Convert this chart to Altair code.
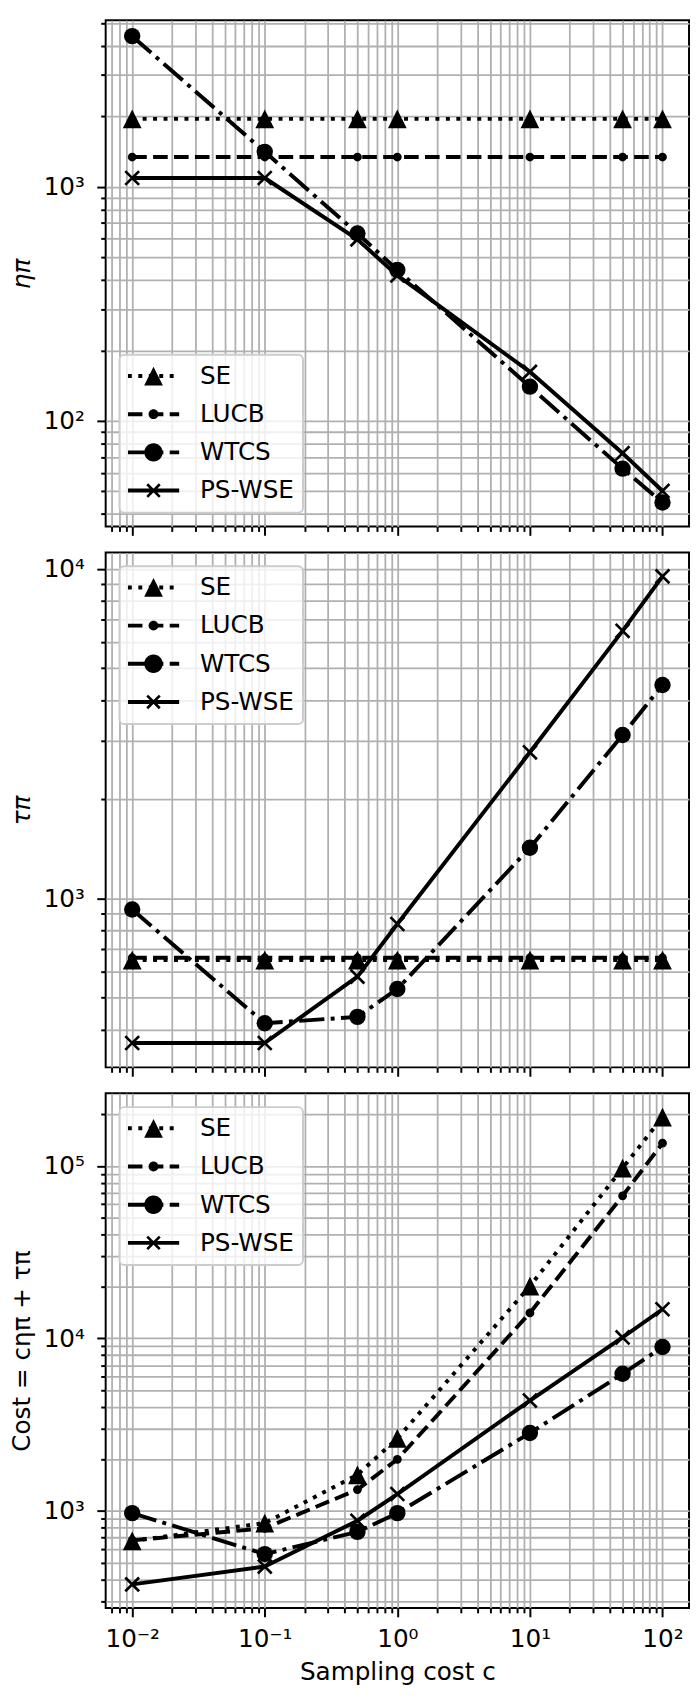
import math
import altair as alt
import pandas as pd

# ---------------- data ----------------
c_values = [0.01, 0.1, 0.5, 1, 10, 50, 100]
series_names = ["SE", "LUCB", "WTCS", "PS-WSE"]

eta_se = [1950, 1950, 1950, 1950, 1950, 1950, 1950]
eta_lucb = [1340, 1340, 1340, 1340, 1340, 1340, 1340]
eta_wtcs = [4400, 1410, 632, 441, 140, 62.5, 44.8]
eta_pswse = [1090, 1090, 596, 418, 162, 72.8, 50.2]

tau_se = [650, 650, 650, 650, 650, 650, 650]
tau_lucb = [660, 660, 660, 660, 660, 660, 660]
tau_wtcs = [925, 418, 437, 531, 1424, 3133, 4442]
tau_pswse = [364, 364, 579, 836, 2775, 6486, 9490]

cost_se = [670, 850, 1620, 2630, 20100, 97000, 192000]
cost_lucb = [675, 793, 1330, 1990, 14060, 67100, 135500]
cost_wtcs = [971, 562, 756, 971, 2829, 6237, 8913]
cost_pswse = [375, 476, 877, 1253, 4365, 10130, 14760]

x_major_exps = [-2, -1, 0, 1, 2]
sup = {-2: "10⁻²", -1: "10⁻¹", 0: "10⁰", 1: "10¹", 2: "10²", 3: "10³", 4: "10⁴", 5: "10⁵"}

# ---------------- styles ----------------
FONT = "DejaVu Sans"
FS = 25
GRID = "#b0b0b0"
LW = 4
dashes = {"SE": [4, 6.6], "LUCB": [14.8, 6.4], "WTCS": [25.6, 6.4, 4, 6.4], "PS-WSE": None}
marker_shape = {
    "SE": "M0,-1L1,1L-1,1Z",
    "LUCB": "circle",
    "WTCS": "circle",
    "PS-WSE": "M-1,-1L1,1M-1,1L1,-1",
}
marker_size = {"SE": 361, "LUCB": 79, "WTCS": 275, "PS-WSE": 196}

# ---------- legend glyphs: filled-only paths (line sample + marker) ----------
U = 26.0          # px per path unit (symbolSize 2704 -> sqrt/2 = 26)
HALF = 26.0       # half length of the legend line sample, px


def _fmt(v):
    return f"{v / U:.4f}"


def _poly(pts):
    area = sum(pts[i][0] * pts[(i + 1) % len(pts)][1] - pts[(i + 1) % len(pts)][0] * pts[i][1]
               for i in range(len(pts)))
    if area < 0:
        pts = pts[::-1]
    return "M" + "L".join(f"{_fmt(x)},{_fmt(y)}" for x, y in pts) + "Z"


def _line_sample(pattern):
    hw = LW / 2
    if pattern is None:
        return _poly([(-HALF, -hw), (HALF, -hw), (HALF, hw), (-HALF, hw)])
    out, x, i = [], -HALF, 0
    while x < HALF:
        seg = pattern[i % len(pattern)]
        if i % 2 == 0:
            x1 = min(x + seg, HALF)
            out.append(_poly([(x, -hw), (x1, -hw), (x1, hw), (x, hw)]))
        x += seg
        i += 1
    return "".join(out)


def _circle(r):
    a = _fmt(r)
    return f"M-{a},0A{a},{a},0,1,1,{a},0A{a},{a},0,1,1,-{a},0Z"


def _bar(angle, half_len, half_w):
    t = math.radians(angle)
    dx, dy = math.cos(t), math.sin(t)
    nx, ny = -dy, dx
    return _poly([(-half_len * dx - half_w * nx, -half_len * dy - half_w * ny),
                  (half_len * dx - half_w * nx, half_len * dy - half_w * ny),
                  (half_len * dx + half_w * nx, half_len * dy + half_w * ny),
                  (-half_len * dx + half_w * nx, -half_len * dy + half_w * ny)])


legend_markers = {
    "SE": _poly([(0, -9.5), (9.5, 9.5), (-9.5, 9.5)]),
    "LUCB": _circle(5.0),
    "WTCS": _circle(9.35),
    "PS-WSE": _bar(45, 9.0, 1.35) + _bar(-45, 9.0, 1.35),
}
legend_paths = [_line_sample(dashes[n]) + legend_markers[n] for n in series_names]

XMIN, XMAX = 10 ** -2.2, 10 ** 2.2
W = 591.3


def ticks_in(lo, hi):
    vals = []
    for k in range(-4, 7):
        for m in range(1, 10):
            v = m * 10.0 ** k
            if lo <= v <= hi:
                vals.append(v)
    return vals


def label_expr(exps):
    lg = "(log(datum.value)/LN10)"
    expr = "''"
    for e in reversed(exps):
        expr = f"abs({lg} - ({e})) < 1e-6 ? '{sup[e]}' : " + expr
    return expr


MAJOR_TEST = "abs(log(datum.value)/LN10 - round(log(datum.value)/LN10)) < 1e-6"
tick_size = {"condition": {"test": MAJOR_TEST, "value": 9}, "value": 5}
label_size = {"condition": {"test": MAJOR_TEST, "value": FS}, "value": 0}

common_axis = dict(
    grid=True, gridColor=GRID, gridWidth=1.8, gridOpacity=1,
    domain=False, tickColor="black", tickWidth=2, tickSize=tick_size,
    labelFont=FONT, labelFontSize=label_size, labelColor="black",
    labelOverlap=False, labelFlush=False,
    titleFont=FONT, titleFontSize=FS, titleFontWeight="normal", titleColor="black",
)


def panel(vals, ydomain, ytitle, height, legend_orient, bottom, italic):
    rows = []
    for name, ys in zip(series_names, vals):
        for c, v in zip(c_values, ys):
            rows.append({"c": c, "value": v, "series": name})
    df = pd.DataFrame(rows)

    xvals = ticks_in(XMIN, XMAX)
    if bottom:
        xaxis = alt.Axis(values=xvals, labelExpr=label_expr(x_major_exps), labelPadding=10.5,
                         title="Sampling cost c", titleY=53, titleBaseline="top",
                         **common_axis)
    else:
        xaxis = alt.Axis(values=xvals, labels=False, title=None, **common_axis)

    yvals = ticks_in(ydomain[0], ydomain[1])
    yexps = [e for e in range(-3, 7) if ydomain[0] <= 10 ** e <= ydomain[1]]
    yaxis = alt.Axis(values=yvals, labelExpr=label_expr(yexps), labelPadding=12.5,
                     title=ytitle, titleX=-85.5, titleY=height / 2, titleAngle=270,
                     titleAlign="center", titleBaseline="middle",
                     titleFontStyle="italic" if italic else "normal",
                     **common_axis)

    base = alt.Chart(df).encode(
        x=alt.X("c:Q", scale=alt.Scale(type="log", domain=[XMIN, XMAX], nice=False), axis=xaxis),
        y=alt.Y("value:Q", scale=alt.Scale(type="log", domain=ydomain, nice=False), axis=yaxis),
    )

    layers = []
    for name in series_names:
        sub = base.transform_filter(alt.datum.series == name)
        line_kw = dict(color="black", strokeWidth=LW, strokeJoin="round")
        if dashes[name] is not None:
            line_kw["strokeDash"] = dashes[name]
        layers.append(sub.mark_line(**line_kw))
        if name == "PS-WSE":
            pts = sub.mark_point(filled=False, color="black", strokeWidth=2.7, opacity=1)
        else:
            pts = sub.mark_point(filled=True, color="black", opacity=1, strokeWidth=0)
        layers.append(pts.encode(shape=alt.value(marker_shape[name]), size=alt.value(marker_size[name])))

    leg = alt.Legend(
        title=None, orient=legend_orient, offset=14, padding=8.5,
        fillColor="rgba(255,255,255,0.8)", strokeColor="#cccccc", cornerRadius=5,
        symbolSize=2704, symbolStrokeWidth=0, symbolFillColor="black", symbolOpacity=1,
        labelFont=FONT, labelFontSize=FS, labelColor="black", labelOffset=21,
        clipHeight=26, rowPadding=12.7, labelLimit=300,
    )
    legend_layer = base.transform_filter("false").mark_point(
        filled=True, color="black", opacity=1
    ).encode(
        shape=alt.Shape("series:N", scale=alt.Scale(domain=series_names, range=legend_paths), legend=leg),
    )
    layers.append(legend_layer)
    return alt.layer(*layers).properties(width=W, height=height)


p1 = panel([eta_se, eta_lucb, eta_wtcs, eta_pswse], [35.41, 5139], "ηπ", 513, "bottom-left", False, True)
p2 = panel([tau_se, tau_lucb, tau_wtcs, tau_pswse], [307.0, 11220], "τπ", 522, "top-left", False, True)
p3 = panel([cost_se, cost_lucb, cost_wtcs, cost_pswse], [274.0, 263600], "Cost = cηπ + τπ", 521.6, "top-left", True, False)

chart = alt.vconcat(p1, p2, p3, spacing=26.3, bounds="flush").properties(padding=0).configure_view(
    stroke="black", strokeWidth=2
).configure_legend(strokeWidth=2)

chart.save("out.html", embed_options={"renderer": "svg", "actions": False})
